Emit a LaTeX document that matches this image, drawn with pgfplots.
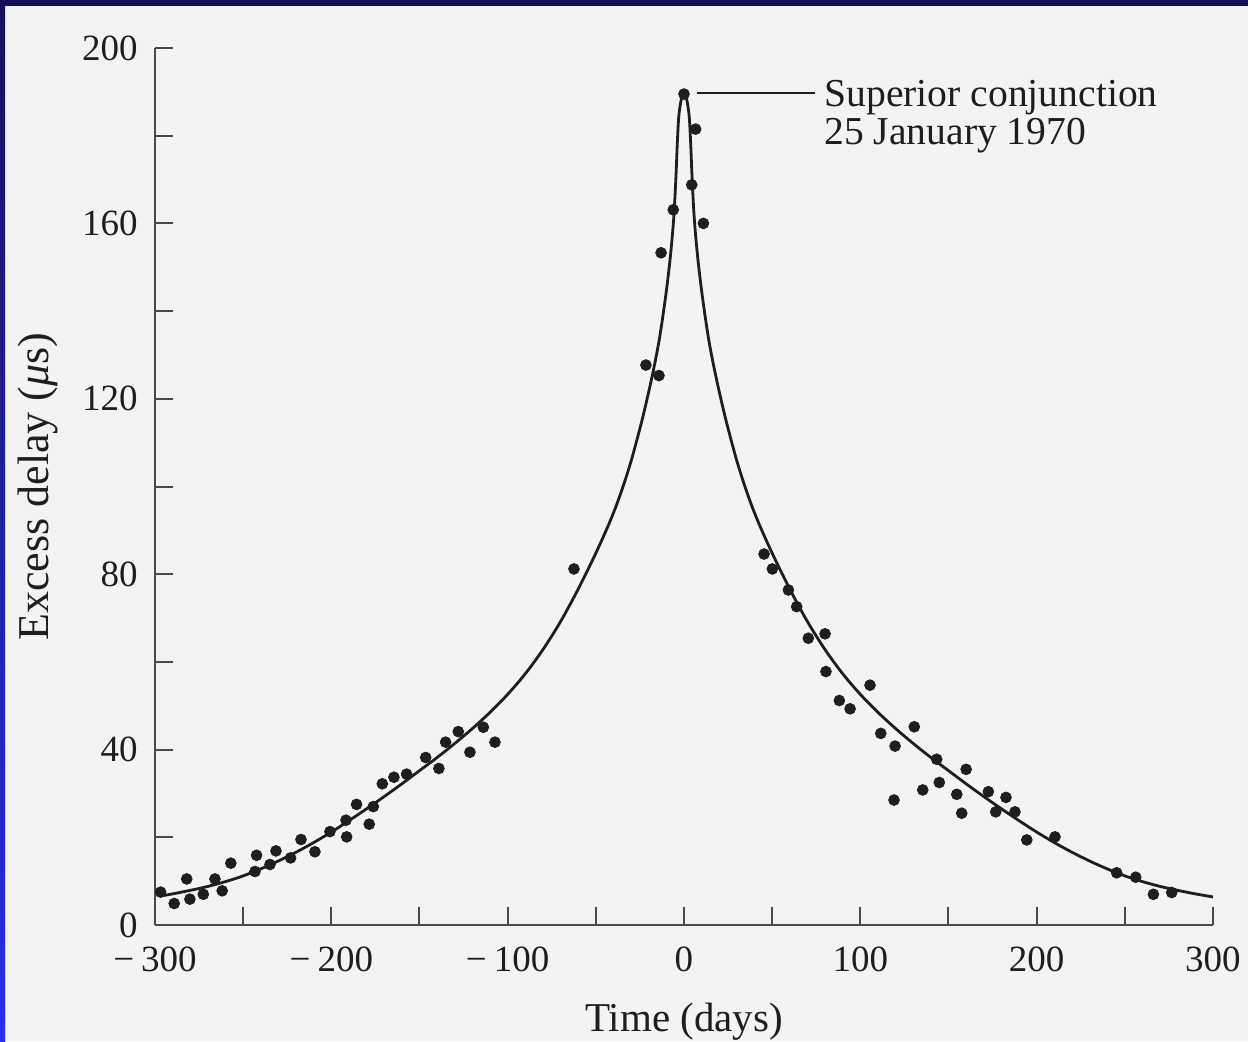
\documentclass[border=0pt]{standalone}
\usepackage{fontspec}
\setmainfont{Liberation Serif}
\usepackage{pgfplots}
\pgfplotsset{compat=1.18}
\definecolor{bgc}{HTML}{F3F3F3}
\definecolor{navy}{RGB}{22,18,88}
\definecolor{blueb}{RGB}{44,44,235}
\definecolor{inkc}{HTML}{1E1E1E}
\definecolor{axc}{HTML}{4A4A4A}

\pgfplotstableread{
d v
-295 6.75
-290 7.1
-280 7.9
-270 8.8
-260 9.9
-250 11.2
-240 12.8
-230 14.6
-220 16.6
-210 18.8
-200 21.2
-190 23.8
-180 26.5
-170 29.3
-160 32.2
-150 35.2
-140 38.2
-130 41.4
-120 44.8
-110 48.5
-100 52.6
-90 57.3
-80 62.8
-70 69.2
-60 76.6
-50 84.8
-42 92.0
-36 98.3
-30 105.8
-24 114.8
-20 121.6
-17 127.2
-14.5 132.4
-12.5 137.4
-10 144.6
-8 151.4
-6.5 157.7
-5.5 163.2
-4.5 171.2
-3.8 178.2
-3 184.2
-2 187.3
-1 189.1
0 189.7
1 189.1
2 187.3
3 184.2
3.8 178.2
4.5 171.2
5.5 163.2
6.5 157.7
8 151.4
10 144.6
12.5 137.4
14.5 132.4
17 127.2
20 121.6
24 114.8
30 105.8
36 98.3
42 92.0
50 84.8
60 76.6
70 69.2
80 62.8
90 57.3
100 52.6
110 48.5
120 44.8
130 41.4
140 38.2
150 35.2
160 32.2
170 29.3
180 26.5
190 23.8
200 21.2
210 18.8
220 16.6
230 14.6
240 12.8
250 11.2
260 9.9
270 8.8
280 7.9
290 7.1
300 6.4
}\curve

\pgfplotstableread{
d v
-296.8 7.5
-289.1 4.9
-282.0 10.5
-280.2 5.9
-272.6 7.0
-266.0 10.5
-261.9 7.8
-257.0 14.1
-243.3 12.2
-242.4 15.9
-234.8 13.8
-231.4 16.9
-223.1 15.3
-217.2 19.5
-209.3 16.7
-200.8 21.3
-191.7 23.9
-191.3 20.1
-185.7 27.5
-178.5 23.0
-176.2 27.0
-171.1 32.2
-164.5 33.7
-157.3 34.4
-146.5 38.2
-139.0 35.7
-135.2 41.7
-128.0 44.1
-121.4 39.4
-113.8 45.1
-107.2 41.7
-62.4 81.2
-21.6 127.7
-14.2 125.3
-13.0 153.3
-6.1 163.1
0 189.5
4.4 168.8
6.6 181.5
11.0 160.0
45.4 84.6
50.1 81.2
59.2 76.4
63.9 72.6
70.5 65.4
80.0 66.4
80.5 57.8
88.1 51.2
94.2 49.3
105.5 54.7
111.6 43.7
119.7 40.8
119.1 28.5
130.6 45.2
135.4 30.8
143.3 37.8
144.8 32.5
154.7 29.8
157.5 25.5
160.0 35.5
172.6 30.4
176.8 25.8
182.6 29.1
187.7 25.8
194.4 19.4
210.4 20.1
245.4 11.9
256.2 10.9
266.2 7.0
276.6 7.4
}\pts

\begin{document}
\begin{tikzpicture}
\fill[bgc] (0,0) rectangle (624pt,520.5pt);
\fill[navy] (0,517.5pt) rectangle (624pt,520.5pt);
\shade[bottom color=blueb, top color=navy] (0,0) rectangle (2.5pt,520.5pt);
\useasboundingbox (0,0) rectangle (624pt,520.5pt);
\begin{axis}[
  at={(77.5pt,58pt)}, anchor=south west,
  scale only axis, width=529pt, height=438.5pt,
  xmin=-300, xmax=300, ymin=0, ymax=200,
  clip=false,
  axis x line*=bottom, axis y line*=left,
  axis line style={-, axc, line width=1.3pt},
  tick align=inside,
  major tick length=9pt, minor tick length=9pt,
  every tick/.style={axc, line width=1pt},
  xtick={-300,-200,...,300},
  xticklabels={−\kern3.5pt300,−\kern3.5pt200,−\kern3.5pt100,0,100,200,300},
  minor xtick={-250,-150,...,250},
  ytick={0,40,...,200},
  yticklabels={0,40,80,120,160,200},
  minor ytick={20,60,...,180},
  tick label style={font=\fontsize{18.5}{20}\selectfont, text=inkc, inner sep=1pt},
  xticklabel style={yshift=-9.5pt},
  yticklabel style={xshift=-7.5pt},
  xlabel={Time (days)},
  ylabel={Excess delay ({\itshape μ}s)},
  xlabel style={at={(axis description cs:0.5,-0.11)}, anchor=center, font=\fontsize{20.5}{22}\selectfont, text=inkc},
  ylabel style={at={(axis description cs:-0.111,0.5)}, anchor=center, font=\fontsize{22}{24}\selectfont, text=inkc},
]
\addplot[inkc, line width=1.4pt, smooth, tension=0.5] table[x=d, y=v] {\curve};
\addplot[only marks, mark=*, mark size=2.7pt, inkc, mark options={fill=inkc, draw=inkc}] table[x=d, y=v] {\pts};
\draw[inkc, line width=0.9pt] (axis cs:7.4,189.7) -- (axis cs:74.3,189.7);
\node[anchor=base west, inner sep=0pt, font=\fontsize{19.8}{21}\selectfont, text=inkc] at (axis cs:79.4,186.6) {Superior conjunction};
\node[anchor=base west, inner sep=0pt, font=\fontsize{19.8}{21}\selectfont, text=inkc] at (axis cs:79.4,177.9) {25 January 1970};
\end{axis}
\end{tikzpicture}
\end{document}
